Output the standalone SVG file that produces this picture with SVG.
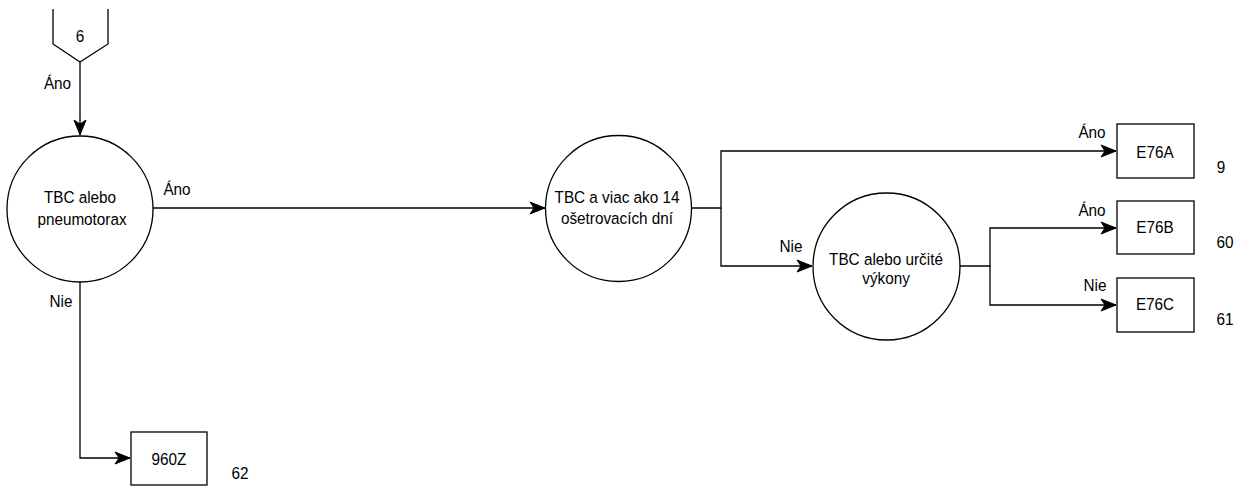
<svg xmlns="http://www.w3.org/2000/svg" width="1250" height="491" viewBox="0 0 1250 491">
<style>
.s{fill:#fff;stroke:#000;stroke-width:1.3}
.c{fill:none;stroke:#000;stroke-width:1.3}
.t{font-family:"Liberation Sans",Arial,sans-serif;font-size:17px;fill:#000;text-anchor:middle;transform-box:fill-box;transform-origin:center;transform:scaleX(0.9)}
</style>
<defs>
<marker id="ar" markerUnits="userSpaceOnUse" markerWidth="20" markerHeight="16" viewBox="-17 -8 20 16" refX="0" refY="0" orient="auto" overflow="visible">
<path d="M-15,-6 L0,0 L-15,6 L-11,0 Z" fill="#000" stroke="#000" stroke-width="1"/>
</marker>
</defs>
<rect width="1250" height="491" fill="#fff"/>
<g id="connectors">
<path class="c" d="M80,62 L80,135" marker-end="url(#ar)"/>
<path class="c" d="M153,208 L545,208" marker-end="url(#ar)"/>
<path class="c" d="M80,282 L80,458 L130,458" marker-end="url(#ar)"/>
<path class="c" d="M691,208 L721,208 L721,151 L1116,151" marker-end="url(#ar)"/>
<path class="c" d="M721,208 L721,266 L812,266" marker-end="url(#ar)"/>
<path class="c" d="M960,266 L990,266 L990,228 L1116,228" marker-end="url(#ar)"/>
<path class="c" d="M990,266 L990,305 L1116,305" marker-end="url(#ar)"/>
<text class="t" x="57.5" y="89">Áno</text>
<text class="t" x="177" y="195">Áno</text>
<text class="t" x="61" y="307">Nie</text>
<text class="t" x="791" y="252">Nie</text>
<text class="t" x="1092" y="138">Áno</text>
<text class="t" x="1092" y="216">Áno</text>
<text class="t" x="1095" y="291">Nie</text>
</g>
<g id="n6">
<path class="s" d="M53,9 L53,44 L80,62 L108,44 L108,9"/>
<text class="t" x="80" y="42">6</text>
</g>
<g id="nTBC1">
<circle class="s" cx="80" cy="209" r="73"/>
<text class="t" x="80" y="203">TBC alebo</text>
<text class="t" x="82" y="225">pneumotorax</text>
</g>
<g id="nTBC2">
<circle class="s" cx="618.5" cy="208.5" r="73"/>
<text class="t" x="617" y="203">TBC a viac ako 14</text>
<text class="t" x="617" y="224">ošetrovacích dní</text>
</g>
<g id="nTBC3">
<circle class="s" cx="886.5" cy="266.5" r="73.5"/>
<text class="t" x="886" y="265">TBC alebo určité</text>
<text class="t" x="886" y="284">výkony</text>
</g>
<g id="nE76A">
<rect class="s" x="1117" y="124" width="77" height="54"/>
<text class="t" x="1155" y="158">E76A</text>
<text class="t" x="1221" y="173">9</text>
</g>
<g id="nE76B">
<rect class="s" x="1117" y="201" width="77" height="53"/>
<text class="t" x="1155" y="233">E76B</text>
<text class="t" x="1225" y="248">60</text>
</g>
<g id="nE76C">
<rect class="s" x="1117" y="278" width="77" height="54"/>
<text class="t" x="1155" y="310">E76C</text>
<text class="t" x="1225" y="325">61</text>
</g>
<g id="n960Z">
<rect class="s" x="131" y="432" width="76" height="53"/>
<text class="t" x="169" y="465">960Z</text>
<text class="t" x="240" y="479">62</text>
</g>
</svg>
